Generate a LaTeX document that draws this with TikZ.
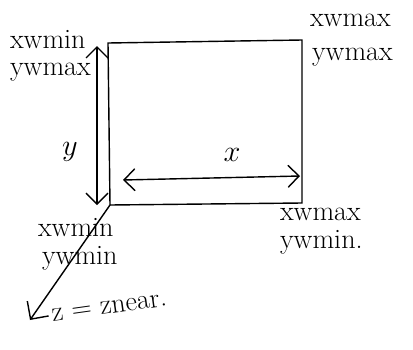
\documentclass[tikz,border=0pt]{standalone}
\usetikzlibrary{arrows.meta,positioning}
\tikzset{
  window edge/.style={thick, black},
  dim arrow/.style={{Straight Barb[length=2.2mm]}-{Straight Barb[length=2.2mm]}, thick},
  depth arrow/.style={-{Straight Barb[length=2.6mm]}, thick},
  corner label/.style={font=\fontsize{16}{18}\selectfont, inner sep=1pt, anchor=west}
}

\begin{document}
\begin{tikzpicture}[x=0.02cm, y=-0.02cm]
    \useasboundingbox (0,0) rectangle (413,349);
    % corners of the window
    \coordinate (tl) at (108,43);
    \coordinate (tr) at (302,40);
    \coordinate (br) at (302,203);
    \coordinate (bl) at (110,205);
    \draw[window edge] (tl) -- (tr) -- (br) -- (bl) -- cycle;
    % height and width
    \coordinate (ytop) at (97,46);
    \coordinate (ybot) at (97,205);
    \draw[dim arrow] (ytop) -- (ybot);
    \coordinate (xleft) at (123,180);
    \coordinate (xright) at (300,176);
    \draw[dim arrow] (xleft) -- (xright);
    \node[corner label, anchor=center, font=\LARGE] (ylab) at (70,152) {$y$};
    \node[corner label, anchor=center, font=\LARGE] (xlab) at (232,155) {$x$};
    % depth
    \coordinate (zend) at (30,320);
    \draw[depth arrow] (bl) -- (zend);
    \node[corner label, rotate=8] (zlab) at (50,316) {z = znear.};
    % corner coordinates
    \node[corner label] (tlx) at (8,40) {xwmin};
    \node[corner label] (tly) at (8,72) {ywmax};
    \node[corner label] (trx) at (308,20) {xwmax};
    \node[corner label] (try) at (310,57) {ywmax};
    \node[corner label] (blx) at (36,228) {xwmin};
    \node[corner label] (bly) at (40,258) {ywmin};
    \node[corner label] (brx) at (278,214) {xwmax};
    \node[corner label] (bry) at (278,242) {ywmin.};
  \end{tikzpicture}
\end{document}
